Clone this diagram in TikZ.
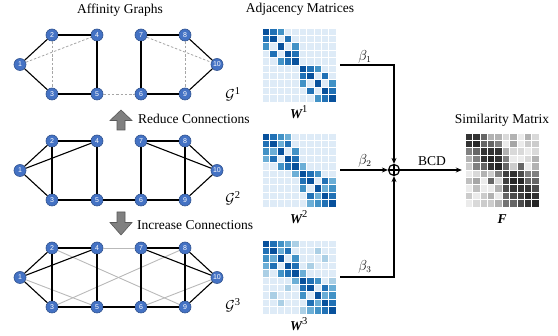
\documentclass[tikz,border=0pt]{standalone}
\usepackage{fontspec}
\setmainfont{Liberation Serif}
\setsansfont{Liberation Sans}
\usepackage{amsmath}
\usetikzlibrary{arrows.meta}
\definecolor{nblue}{HTML}{4472C4}
\definecolor{nborder}{HTML}{2F528F}
\definecolor{mat0}{HTML}{DEEBF7}
\definecolor{matp}{HTML}{ABCFE5}
\definecolor{matl}{HTML}{6BAED6}
\definecolor{matm}{HTML}{4292C6}
\definecolor{matb}{HTML}{2171B5}
\definecolor{matd}{HTML}{08519C}
\definecolor{arrgray}{HTML}{808080}
\newcommand\supnum[1]{^{\mbox{\fontsize{10.5}{10.5}\selectfont #1}}}
\newcommand\mkgraph[2]{%
 \node[gn] (#1-1) at (20,#2+29.5) {1};
 \node[gn] (#1-2) at (52,#2) {2};
 \node[gn] (#1-3) at (52,#2+59) {3};
 \node[gn] (#1-4) at (97,#2) {4};
 \node[gn] (#1-5) at (97,#2+59) {5};
 \node[gn] (#1-6) at (141,#2+59) {6};
 \node[gn] (#1-7) at (141,#2) {7};
 \node[gn] (#1-8) at (185,#2) {8};
 \node[gn] (#1-9) at (185,#2+59) {9};
 \node[gn] (#1-10) at (217,#2+29.5) {10};
}
\newcommand\drawmat[3]{%
 \foreach \row [count=\r] in {#3} {
  \foreach \v [count=\c] in \row {
   \fill[fill=mat\v,draw=white,line width=0.6pt] ({#1+(\c-1)*7.4},{#2+(\r-1)*7.4}) rectangle ++(7.4,7.4);
  }
 }
}
\newcommand\drawgray[3]{%
 \foreach \row [count=\r] in {#3} {
  \foreach \v [count=\c] in \row {
   \fill[fill=black!\v,draw=white,line width=0.6pt] ({#1+(\c-1)*7.4},{#2+(\r-1)*7.4}) rectangle ++(7.4,7.4);
  }
 }
}
\begin{document}
\begin{tikzpicture}[x=1pt,y=-1pt,
 gn/.style={circle,fill=nblue,draw=nborder,line width=0.6pt,inner sep=0pt,minimum size=12pt,text=white,font=\sffamily\fontsize{7}{7}\selectfont},
 e/.style={line width=1.1pt,black},
 ed/.style={line width=0.8pt,gray!70,dash pattern=on 2.5pt off 1.8pt},
 eg/.style={line width=0.9pt,gray!55},
 txt/.style={font=\fontsize{13.5}{16}\selectfont,inner sep=0pt},
 conn/.style={line width=1.3pt,-{Stealth[length=6pt,width=5pt]}},
 matbox/.style={inner sep=0pt,minimum size=74pt},
 blockarrow/.style={fill=arrgray,draw=black!65,line width=0.6pt}]
\useasboundingbox (0,0) rectangle (558,336);

% titles
\node[txt] (t1) at (120,10) {Affinity Graphs};
\node[txt] (t2) at (300,9) {Adjacency Matrices};
\node[txt] (t3) at (502,120) {Similarity Matrix};

% graphs
\mkgraph{a}{35}
\mkgraph{b}{141}
\mkgraph{c}{248}
\foreach \p/\q in {1/2,1/3,2/4,4/5,3/5,7/6,7/8,8/10,10/9,6/9} \draw[e] (a-\p) -- (a-\q);
\foreach \p/\q in {1/4,2/3,5/6,7/10,8/9} \draw[ed] (a-\p) -- (a-\q);
\foreach \p/\q in {1/2,1/3,1/4,2/3,2/4,4/5,3/5,5/6,6/7,7/8,7/10,8/9,8/10,9/10,6/9} \draw[e] (b-\p) -- (b-\q);
\foreach \p/\q in {4/7,2/9,1/5,3/8,6/10} \draw[eg] (c-\p) -- (c-\q);
\foreach \p/\q in {1/2,1/3,1/4,2/3,2/4,4/5,3/5,5/6,6/7,7/8,7/10,8/9,8/10,9/10,6/9} \draw[e] (c-\p) -- (c-\q);

\node[txt] (G1) at (233,94) {$\mathcal{G}\supnum{1}$};
\node[txt] (G2) at (233,198) {$\mathcal{G}\supnum{2}$};
\node[txt] (G3) at (233,305) {$\mathcal{G}\supnum{3}$};

% block arrows
\draw[blockarrow] (121,110) -- (132,120.5) -- (125,120.5) -- (125,130) -- (117,130) -- (117,120.5) -- (110,120.5) -- cycle;
\node[txt,anchor=west] (red) at (138,119) {Reduce Connections};
\draw[blockarrow] (117,212) -- (125,212) -- (125,222.5) -- (132,222.5) -- (121,235) -- (110,222.5) -- (117,222.5) -- cycle;
\node[txt,anchor=west] (inc) at (137,225) {Increase Connections};

% matrices
\node[matbox] (W1) at (299,65) {};
\node[matbox] (W2) at (299,170) {};
\node[matbox] (W3) at (299,277) {};
\node[matbox] (F) at (502,170) {};
\drawmat{262}{28}{{d,b,m,0,0,0,0,0,0,0},{b,d,0,b,0,0,0,0,0,0},{m,0,d,0,m,0,0,0,0,0},{0,b,0,d,b,0,0,0,0,0},{0,0,m,b,d,0,0,0,0,0},{0,0,0,0,0,d,b,m,0,0},{0,0,0,0,0,b,d,0,b,0},{0,0,0,0,0,m,0,d,0,m},{0,0,0,0,0,0,b,0,d,b},{0,0,0,0,0,0,0,m,b,d}}
\drawmat{262}{133}{{d,b,m,l,0,0,0,0,0,0},{b,d,l,b,0,0,0,0,0,0},{m,l,d,0,m,0,0,0,0,0},{l,b,0,d,b,0,0,0,0,0},{0,0,m,b,d,l,0,0,0,0},{0,0,0,0,l,d,b,m,0,0},{0,0,0,0,0,b,d,0,b,l},{0,0,0,0,0,m,0,d,l,m},{0,0,0,0,0,0,b,l,d,b},{0,0,0,0,0,0,l,m,b,d}}
\drawmat{262}{240}{{d,b,m,l,p,0,0,0,0,0},{b,d,l,b,0,0,0,p,0,0},{m,l,d,0,m,0,0,0,p,0},{l,b,0,d,b,0,p,0,0,0},{p,0,m,b,d,l,0,0,0,0},{0,0,0,0,l,d,b,m,0,p},{0,0,0,p,0,b,d,0,b,l},{0,p,0,0,0,m,0,d,l,m},{0,0,p,0,0,0,b,l,d,b},{0,0,0,0,0,p,l,m,b,d}}
\drawgray{465}{133}{{80,80,60,30,30,15,30,8,30,15},{80,85,60,60,50,8,35,8,20,20},{50,60,80,80,80,30,15,15,8,15},{30,50,80,85,80,50,8,8,15,30},{20,50,60,80,85,60,20,60,8,30},{8,15,30,20,50,75,80,70,50,50},{25,35,8,60,15,75,85,85,60,60},{8,25,8,8,30,70,80,80,80,70},{20,8,20,30,8,60,70,75,85,80},{8,15,20,20,30,55,60,70,80,85}}

\node[txt] (w1l) at (299,112) {$\mbox{\bfseries\itshape W}\supnum{1}$};
\node[txt] (w2l) at (299,217) {$\mbox{\bfseries\itshape W}\supnum{2}$};
\node[txt] (w3l) at (299,324) {$\mbox{\bfseries\itshape W}\supnum{3}$};
\node[txt] (fl) at (502,219) {\bfseries\itshape F};

% sum
\node[circle,draw,line width=1.2pt,inner sep=0pt,minimum size=11pt] (sum) at (394,170) {};
\draw[line width=1.1pt] (sum.north) -- (sum.south) (sum.west) -- (sum.east);

\draw[conn] ([xshift=4pt]W1.east) -| (sum);
\draw[conn] ([xshift=4pt]W2.east) -- (sum);
\draw[conn] ([xshift=4pt]W3.east) -| (sum);
\draw[conn] (sum) -- ([xshift=-3pt]F.west);

\node[txt] (b1) at (365,57) {$\beta_1$};
\node[txt] (b2) at (365,161) {$\beta_2$};
\node[txt] (b3) at (365,267) {$\beta_3$};
\node[txt] (bcd) at (432,161) {BCD};
\end{tikzpicture}
\end{document}
